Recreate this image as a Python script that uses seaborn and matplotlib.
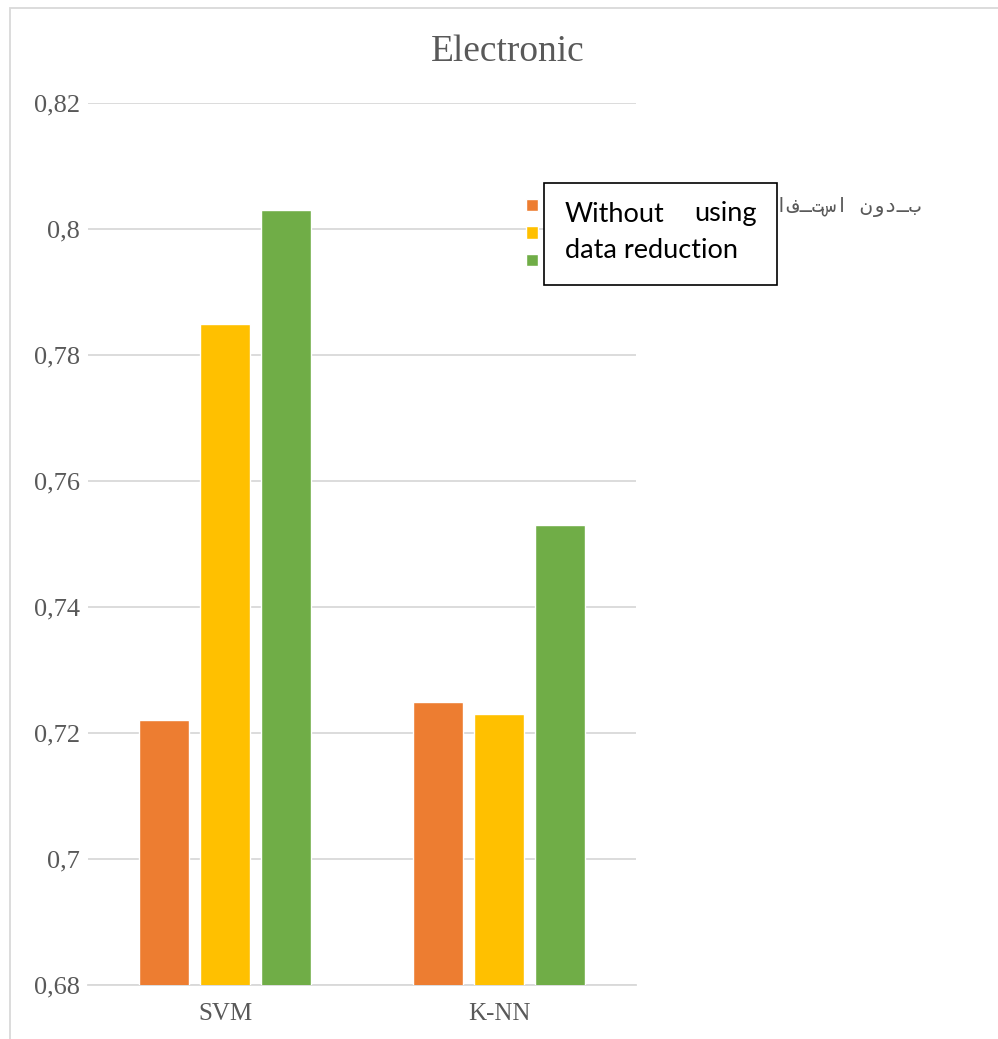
import matplotlib
matplotlib.use('Agg')
import matplotlib.pyplot as plt
from matplotlib.patches import Rectangle
from matplotlib.ticker import FuncFormatter, MultipleLocator
import pandas as pd
import seaborn as sns

# data
categories = ['SVM', 'K-NN']
series_labels = [
    'هداد شهاک شور زا هدافـتسا نودـب',   # shown reversed (no RTL shaping in matplotlib)
    'یداهنشیپ شور',
    'یبیکرت شور',
]
series_colors = ['#ED7D31', '#FFC000', '#70AD47']
values_s1 = [0.722, 0.725]
values_s2 = [0.785, 0.723]
values_s3 = [0.803, 0.753]

W, H = 998, 1039
df = pd.DataFrame({
    'category': categories * 3,
    'series': [series_labels[0]] * 2 + [series_labels[1]] * 2 + [series_labels[2]] * 2,
    'value': values_s1 + values_s2 + values_s3,
})

sns.set_style('white')
plt.rcParams['font.family'] = ['Liberation Serif', 'DejaVu Sans']

fig = plt.figure(figsize=(W / 100, H / 100), dpi=100)
ax = fig.add_axes([88 / W, 1 - 985 / H, (636 - 88) / W, (985 - 103) / H])

sns.barplot(data=df, x='category', y='value', hue='series', hue_order=series_labels,
            palette=series_colors, width=0.667, gap=0.19, saturation=1,
            ax=ax, zorder=3)

ax.set_ylim(0.68, 0.82)
ax.set_xlim(-0.5, 1.5)
ax.yaxis.set_major_locator(MultipleLocator(0.02))
ax.yaxis.set_major_formatter(FuncFormatter(lambda v, p: f'{round(v, 3):g}'.replace('.', ',')))
ax.grid(axis='y', color='#D9D9D9', linewidth=1.3, zorder=0)
ax.set_axisbelow(True)
for s in ['top', 'right', 'left']:
    ax.spines[s].set_visible(False)
ax.spines['bottom'].set_color('#D9D9D9')
ax.spines['bottom'].set_linewidth(1.3)
ax.set_xlabel('')
ax.set_ylabel('')
ax.tick_params(axis='y', length=0, pad=6, labelsize=19, labelcolor='#595959')
ax.tick_params(axis='x', length=0, pad=13, labelsize=18, labelcolor='#595959')

# legend (series labels partly hidden behind the text box, like the original)
handles, labels = ax.get_legend_handles_labels()
ax.legend(handles, labels, loc='upper left', bbox_to_anchor=(526 / W, 1 - 197 / H),
          bbox_transform=fig.transFigure, frameon=False, borderpad=0, borderaxespad=0,
          handlelength=0.58, handleheight=0.58, handletextpad=0.35, labelspacing=0.37,
          prop={'family': ['DejaVu Sans Mono', 'DejaVu Sans'], 'size': 14.5},
          labelcolor='#595959')

# outer chart frame
fig.add_artist(Rectangle((10 / W, -0.1), 1.2, 1 - 8 / H + 0.1, transform=fig.transFigure,
                         fill=False, edgecolor='#D9D9D9', linewidth=1.3))

# title
fig.text(508 / W, 1 - 52 / H, 'Electronic', ha='center', va='center',
         fontsize=27, color='#595959', family='Liberation Serif')

# overlaid text box
fig.add_artist(Rectangle((544 / W, 1 - 285 / H), (777 - 544) / W, (285 - 183) / H,
                         transform=fig.transFigure, facecolor='white', edgecolor='black',
                         linewidth=1.2, zorder=10))
fig.text(565 / W, 1 - 214 / H, 'Without', ha='left', va='center', fontsize=19.5,
         family='Lato', color='black', zorder=11)
fig.text(757 / W, 1 - 214 / H, 'using', ha='right', va='center', fontsize=19.5,
         family='Lato', color='black', zorder=11)
fig.text(565 / W, 1 - 250 / H, 'data reduction', ha='left', va='center', fontsize=19.5,
         family='Lato', color='black', zorder=11)

fig.savefig('out.png', dpi=100)
